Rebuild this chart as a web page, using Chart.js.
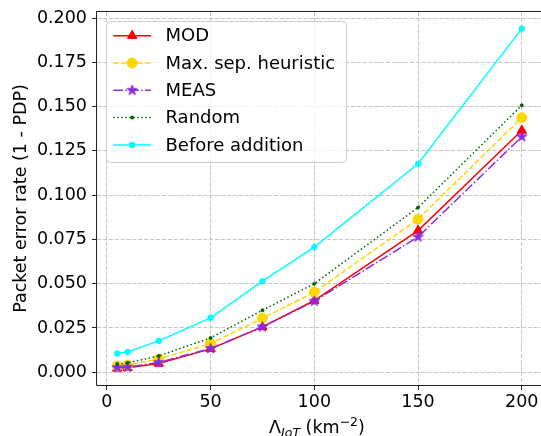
<!DOCTYPE html>
<html>
<head>
<meta charset="utf-8">
<script src="https://cdn.jsdelivr.net/npm/chart.js@4/dist/chart.umd.min.js"></script>
<style>
  html, body { margin: 0; padding: 0; background: #fff; }
  #wrap { width: 541px; height: 436px; }
</style>
</head>
<body>
<div id="wrap"><canvas id="c" width="541" height="436"></canvas></div>
<script>
// IoT device density (per km^2)
const density = [5, 10, 25, 50, 75, 100, 150, 200];

// Packet error rate (1 - PDP) per placement strategy
const modPER       = [0.0022, 0.0025, 0.0050, 0.0132, 0.0256, 0.0405, 0.0800, 0.1365];
const maxSepPER    = [0.0036, 0.0040, 0.0075, 0.0162, 0.0305, 0.0452, 0.0864, 0.1437];
const measPER      = [0.0026, 0.0029, 0.0055, 0.0134, 0.0256, 0.0401, 0.0764, 0.1330];
const randomPER    = [0.0046, 0.0053, 0.0092, 0.0194, 0.0350, 0.0500, 0.0930, 0.1507];
const beforePER    = [0.0106, 0.0114, 0.0177, 0.0307, 0.0514, 0.0706, 0.1177, 0.1940];

const seriesNames = ['MOD', 'Max. sep. heuristic', 'MEAS', 'Random', 'Before addition'];

// Axis ticks
const xTickValues = [0, 50, 100, 150, 200];
const yTickValues = [0, 0.025, 0.05, 0.075, 0.1, 0.125, 0.15, 0.175, 0.2];

const FONT = "'DejaVu Sans', sans-serif";
const PLOT_RIGHT = 542;   // plot frame runs slightly past the canvas edge

function toPoints(ys) {
  return density.map((x, i) => ({ x: x, y: ys[i] }));
}

// Filled five-pointed star marker
function makeStar(color, outer) {
  const size = Math.ceil(outer * 2 + 4);
  const cv = document.createElement('canvas');
  cv.width = size; cv.height = size;
  const g = cv.getContext('2d');
  const cx = size / 2, cy = size / 2;
  const inner = outer * 0.381966;
  g.beginPath();
  for (let k = 0; k < 10; k++) {
    const r = k % 2 === 0 ? outer : inner;
    const a = -Math.PI / 2 + k * Math.PI / 5;
    const px = cx + r * Math.cos(a), py = cy + r * Math.sin(a);
    if (k === 0) g.moveTo(px, py); else g.lineTo(px, py);
  }
  g.closePath();
  g.fillStyle = color; g.fill();
  g.lineWidth = 1; g.strokeStyle = color; g.stroke();
  return cv;
}
const starMarker = makeStar('#8a2be2', 5.5);

const datasets = [
  { label: seriesNames[0], data: toPoints(modPER), borderColor: '#ff0000', backgroundColor: '#ff0000',
    borderWidth: 1.5, pointStyle: 'triangle', pointRadius: 5.5, pointBorderWidth: 1, order: 5 },
  { label: seriesNames[1], data: toPoints(maxSepPER), borderColor: '#ffd700', backgroundColor: '#ffd700',
    borderWidth: 1.5, borderDash: [5.5, 2.4], pointStyle: 'circle', pointRadius: 5, pointBorderWidth: 1, order: 4 },
  { label: seriesNames[2], data: toPoints(measPER), borderColor: '#8a2be2', backgroundColor: '#8a2be2',
    borderWidth: 1.5, borderDash: [9.6, 2.4, 1.5, 2.4], pointStyle: starMarker, pointRadius: 5.5, pointBorderWidth: 1, order: 3 },
  { label: seriesNames[3], data: toPoints(randomPER), borderColor: '#006400', backgroundColor: '#006400',
    borderWidth: 1.5, borderDash: [1.5, 2.5], pointStyle: 'circle', pointRadius: 1.5, pointBorderWidth: 1, order: 2 },
  { label: seriesNames[4], data: toPoints(beforePER), borderColor: '#00ffff', backgroundColor: '#00ffff',
    borderWidth: 1.5, pointStyle: 'circle', pointRadius: 2.8, pointBorderWidth: 1, order: 1 }
];

// Widen the plot area to the right frame edge
const widenArea = {
  id: 'widenArea',
  afterLayout(chart) {
    const area = chart.chartArea;
    area.right = PLOT_RIGHT;
    area.width = area.right - area.left;
    const xs = chart.scales.x;
    xs.right = PLOT_RIGHT;
    xs.width = xs.right - xs.left;
    xs.configure();
  }
};

// Axes frame, axis titles and the boxed legend
const decorations = {
  id: 'decorations',
  afterDatasetsDraw(chart) {
    const { ctx, chartArea: a } = chart;
    ctx.save();
    ctx.strokeStyle = '#222';
    ctx.lineWidth = 1;
    ctx.setLineDash([]);
    ctx.beginPath();
    ctx.moveTo(a.left - 0.5, a.top - 0.5);
    ctx.lineTo(a.left - 0.5, a.bottom + 0.5);
    ctx.lineTo(a.right, a.bottom + 0.5);
    ctx.moveTo(a.left - 0.5, a.top - 0.5);
    ctx.lineTo(a.right, a.top - 0.5);
    ctx.stroke();
    ctx.restore();
  },
  afterDraw(chart) {
    const { ctx, chartArea: a } = chart;
    ctx.save();
    ctx.fillStyle = '#000';

    // y axis title
    ctx.save();
    ctx.translate(26, (a.top + a.bottom) / 2);
    ctx.rotate(-Math.PI / 2);
    ctx.font = '17.5px ' + FONT;
    ctx.textAlign = 'center';
    ctx.textBaseline = 'alphabetic';
    ctx.fillText('Packet error rate (1 - PDP)', 0, 0);
    ctx.restore();

    // x axis title: Λ_IoT (km^-2)
    const base = 433;
    const big = '17.5px ' + FONT;
    const small = '12.5px ' + FONT;
    const smallIt = 'italic 12.5px ' + FONT;
    const parts = [
      { t: '\u039B', f: big, dy: 0 },
      { t: 'IoT', f: smallIt, dy: 3.5 },
      { t: ' (km', f: big, dy: 0 },
      { t: '\u22122', f: small, dy: -7 },
      { t: ')', f: big, dy: 0 }
    ];
    let total = 0;
    parts.forEach(p => { ctx.font = p.f; p.w = ctx.measureText(p.t).width; total += p.w; });
    let x = 317 - total / 2;
    ctx.textAlign = 'left';
    ctx.textBaseline = 'alphabetic';
    parts.forEach(p => { ctx.font = p.f; ctx.fillText(p.t, x, base + p.dy); x += p.w; });

    // legend
    const bx = 106.5, by = 21.5, bw = 240, bh = 141;
    ctx.beginPath();
    ctx.roundRect(bx, by, bw, bh, 4);
    ctx.fillStyle = 'rgba(255,255,255,0.8)';
    ctx.fill();
    ctx.strokeStyle = '#cccccc';
    ctx.lineWidth = 1;
    ctx.stroke();

    const x0 = 113.3, x1 = 151, tx = 165.5;
    chart.data.datasets.forEach((ds, i) => {
      const y = 35.7 + i * 27.3;
      ctx.save();
      ctx.strokeStyle = ds.borderColor;
      ctx.lineWidth = ds.borderWidth;
      ctx.setLineDash(ds.borderDash || []);
      ctx.beginPath();
      ctx.moveTo(x0, y);
      ctx.lineTo(x1, y);
      ctx.stroke();
      ctx.setLineDash([]);
      ctx.fillStyle = ds.backgroundColor;
      ctx.strokeStyle = ds.borderColor;
      ctx.lineWidth = ds.pointBorderWidth;
      Chart.helpers.drawPoint(ctx, {
        pointStyle: ds.pointStyle, radius: ds.pointRadius, rotation: 0, borderWidth: ds.pointBorderWidth
      }, (x0 + x1) / 2, y);
      ctx.restore();
      ctx.fillStyle = '#000';
      ctx.font = '18px ' + FONT;
      ctx.textAlign = 'left';
      ctx.textBaseline = 'middle';
      ctx.fillText(ds.label, tx, y + 1);
    });
    ctx.restore();
  }
};

new Chart(document.getElementById('c'), {
  type: 'line',
  data: { datasets: datasets },
  options: {
    responsive: false,
    animation: false,
    devicePixelRatio: 1,
    layout: { padding: { top: 12, right: 0, bottom: 0, left: 0 } },
    elements: { line: { tension: 0, fill: false } },
    plugins: { legend: { display: false }, tooltip: { enabled: false } },
    scales: {
      x: {
        type: 'linear',
        min: -4.75,
        max: 209.75,
        afterBuildTicks: s => { s.ticks = xTickValues.map(v => ({ value: v })); },
        afterFit: s => { s.height = 51; s.paddingLeft = 0; s.paddingRight = 0; },
        ticks: {
          font: { family: FONT, size: 17.5 }, color: '#000', padding: 2,
          maxRotation: 0, autoSkip: false,
          callback: v => String(v)
        },
        grid: { color: '#c4c4c4', lineWidth: 1, tickLength: 5, tickColor: '#222', tickWidth: 1, tickBorderDash: [] },
        border: { display: false, dash: [4.1, 1.8] }
      },
      y: {
        type: 'linear',
        min: -0.0072,
        max: 0.2034,
        afterBuildTicks: s => { s.ticks = yTickValues.map(v => ({ value: v })); },
        afterFit: s => { s.width = 97; s.paddingTop = 0; s.paddingBottom = 0; },
        ticks: {
          font: { family: FONT, size: 17.5 }, color: '#000', padding: 5, autoSkip: false,
          callback: v => Number(v).toFixed(3)
        },
        grid: { color: '#c4c4c4', lineWidth: 1, tickLength: 5, tickColor: '#222', tickWidth: 1, tickBorderDash: [] },
        border: { display: false, dash: [4.1, 1.8] }
      }
    }
  },
  plugins: [widenArea, decorations]
});
</script>
</body>
</html>
